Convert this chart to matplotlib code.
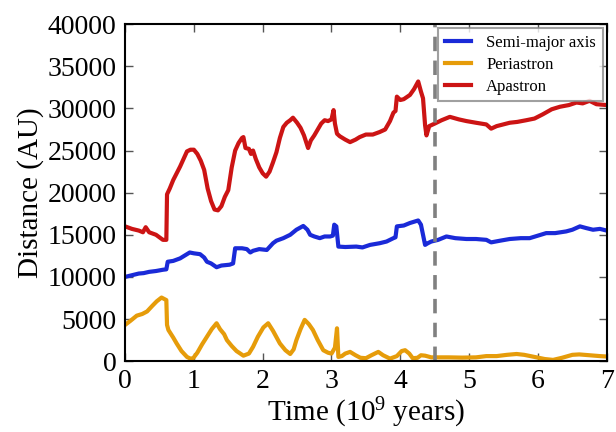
import numpy as np
import matplotlib as mpl
import matplotlib.pyplot as plt

##################################################
# fonts
mpl.rcParams['font.family'] = ['Liberation Serif', 'DejaVu Serif']
mpl.rcParams['mathtext.fontset'] = 'custom'
mpl.rcParams['mathtext.rm'] = 'Liberation Serif'
mpl.rcParams['mathtext.it'] = 'Liberation Serif:italic'

##################################################
# data (time in 10^9 yr, distance in AU)
t_apo = [0.0, 0.1, 0.2, 0.26, 0.3, 0.35, 0.45, 0.55, 0.6, 0.61, 0.65, 0.7, 0.75, 0.8,
         0.85, 0.9, 0.95, 1.0, 1.05, 1.1, 1.15, 1.2, 1.25, 1.3, 1.35, 1.4, 1.45, 1.5,
         1.55, 1.6, 1.65, 1.7, 1.72, 1.75, 1.8, 1.83, 1.86, 1.9, 1.95, 2.0, 2.05, 2.1,
         2.15, 2.2, 2.25, 2.3, 2.35, 2.4, 2.44, 2.5, 2.55, 2.6, 2.66, 2.7, 2.75, 2.8,
         2.85, 2.9, 2.95, 3.0, 3.03, 3.05, 3.08, 3.12, 3.2, 3.27, 3.35, 3.41, 3.5, 3.6,
         3.7, 3.78, 3.85, 3.9, 3.93, 3.95, 4.0, 4.05, 4.14, 4.2, 4.26, 4.3, 4.33, 4.36,
         4.38, 4.42, 4.5, 4.6, 4.72, 4.85, 4.96, 5.1, 5.25, 5.32, 5.4, 5.59, 5.7, 5.83,
         5.95, 6.07, 6.2, 6.32, 6.45, 6.56, 6.65, 6.75, 6.85, 7.0]
apastron = [16000, 15700, 15500, 15300, 15900, 15300, 15000, 14400, 14400, 19800, 20500,
            21500, 22300, 23100, 24000, 24900, 25100, 25100, 24600, 23800, 22700, 20500,
            19000, 18000, 17900, 18400, 19500, 20300, 23000, 25000, 25900, 26500, 26600,
            25300, 25200, 24600, 25000, 24000, 23000, 22300, 21900, 22500, 23600, 24800,
            26500, 27800, 28300, 28600, 28900, 28300, 27700, 26800, 25300, 26200, 26800,
            27500, 28200, 28600, 28500, 28700, 29800, 28200, 27000, 26700, 26300, 26000,
            26300, 26600, 26900, 26900, 27200, 27500, 28500, 29500, 29700, 31400, 31000,
            31100, 31600, 32300, 33200, 32000, 31200, 28000, 26800, 27900, 28200, 28600,
            29000, 28700, 28500, 28300, 28100, 27600, 27900, 28300, 28400, 28600, 28800,
            29300, 29900, 30200, 30400, 30700, 30600, 30900, 30500, 30400]

t_semi = [0.0, 0.1, 0.2, 0.27, 0.35, 0.45, 0.55, 0.6, 0.62, 0.7, 0.8, 0.9, 0.94, 1.0,
          1.09, 1.15, 1.19, 1.25, 1.33, 1.4, 1.52, 1.57, 1.6, 1.7, 1.77, 1.82, 1.86,
          1.95, 2.06, 2.15, 2.2, 2.3, 2.4, 2.49, 2.59, 2.65, 2.69, 2.75, 2.83, 2.9, 2.98,
          3.02, 3.04, 3.07, 3.1, 3.2, 3.36, 3.45, 3.56, 3.7, 3.8, 3.9, 3.93, 3.95, 4.05,
          4.14, 4.26, 4.3, 4.36, 4.4, 4.45, 4.55, 4.67, 4.8, 4.96, 5.1, 5.25, 5.32, 5.45,
          5.59, 5.75, 5.88, 6.0, 6.12, 6.25, 6.41, 6.5, 6.61, 6.7, 6.8, 6.9, 7.0]
semi_major = [10000, 10200, 10400, 10450, 10600, 10700, 10850, 10900, 11800, 11900, 12200,
              12700, 12900, 12800, 12700, 12300, 11800, 11600, 11150, 11350, 11450, 11600,
              13400, 13400, 13300, 12900, 13100, 13300, 13200, 14000, 14300, 14600, 15000,
              15600, 16050, 15600, 15000, 14800, 14600, 14800, 14800, 14900, 16200, 16000,
              13600, 13550, 13600, 13500, 13800, 14000, 14200, 14600, 14700, 16000, 16100,
              16400, 16700, 16200, 13800, 14000, 14200, 14400, 14800, 14600, 14500, 14500,
              14400, 14100, 14300, 14500, 14600, 14600, 14900, 15200, 15200, 15400, 15600,
              16000, 15800, 15600, 15700, 15500]

t_peri = [0.0, 0.08, 0.17, 0.25, 0.32, 0.4, 0.46, 0.53, 0.6, 0.61, 0.63, 0.7, 0.75, 0.82,
          0.9, 0.95, 0.99, 1.05, 1.12, 1.19, 1.26, 1.33, 1.38, 1.44, 1.48, 1.55, 1.62,
          1.72, 1.8, 1.86, 1.93, 2.01, 2.08, 2.15, 2.25, 2.33, 2.4, 2.45, 2.49, 2.55, 2.61,
          2.67, 2.73, 2.8, 2.88, 2.95, 3.0, 3.05, 3.08, 3.1, 3.15, 3.2, 3.27, 3.35, 3.42,
          3.5, 3.58, 3.68, 3.75, 3.85, 3.95, 4.02, 4.07, 4.13, 4.18, 4.25, 4.3, 4.36, 4.45,
          4.53, 4.7, 4.9, 5.1, 5.25, 5.4, 5.55, 5.69, 5.8, 5.95, 6.1, 6.22, 6.35, 6.5, 6.6,
          6.75, 6.9, 7.0]
periastron = [4300, 4800, 5400, 5600, 5900, 6600, 7100, 7550, 7250, 4300, 3700, 2800, 2100,
              1200, 500, 300, 350, 1000, 2000, 2900, 3800, 4500, 3800, 3200, 2500, 1800,
              1200, 650, 900, 1700, 2900, 4000, 4500, 3600, 2100, 1300, 850, 1400, 2500,
              3800, 4900, 4400, 3700, 2500, 1300, 1000, 900, 1600, 3900, 500, 600, 900,
              1100, 700, 400, 350, 700, 1100, 700, 300, 600, 1200, 1300, 900, 350, 400,
              700, 650, 450, 450, 450, 420, 450, 600, 600, 750, 850, 750, 500, 250, 150,
              400, 750, 800, 700, 600, 550]

t_mark = 4.5

##################################################
fig = plt.figure(figsize=[6.16, 4.32], dpi=100)
ax = fig.add_axes([0.203, 0.164, 0.782, 0.780])

ax.plot(t_semi, semi_major, color='#1a2ad8', lw=3, label='Semi-major axis')
ax.plot(t_peri, periastron, color='#e69c0a', lw=3, label='Periastron')
ax.plot(t_apo, apastron, color='#cc1414', lw=3, label='Apastron')
ax.axvline(t_mark, color='#808080', lw=2.6, dashes=(4, 2.6))

ax.set_xlim(0, 7)
ax.set_ylim(0, 40000)
ax.set_xticks(np.arange(0, 8, 1))
ax.set_yticks(np.arange(0, 40001, 5000))

for s in ax.spines.values():
    s.set_linewidth(1.5)
ax.tick_params(direction='in', top=True, right=True, length=6, width=1,
               color='#555555', labelsize=20, pad=6)

ax.set_xlabel('Time ($10^9$ years)', fontsize=21, labelpad=1)
ax.set_ylabel('Distance (AU)', fontsize=21, labelpad=3)

leg = ax.legend(loc='upper right', fontsize=12, fancybox=False, framealpha=0.8,
                handlelength=1.6, handletextpad=0.9, labelspacing=0.35,
                borderaxespad=0.25, borderpad=0.4)
leg.get_frame().set_edgecolor('#888888')
leg.get_frame().set_linewidth(1.5)

fig.savefig('out.png', dpi=100)
